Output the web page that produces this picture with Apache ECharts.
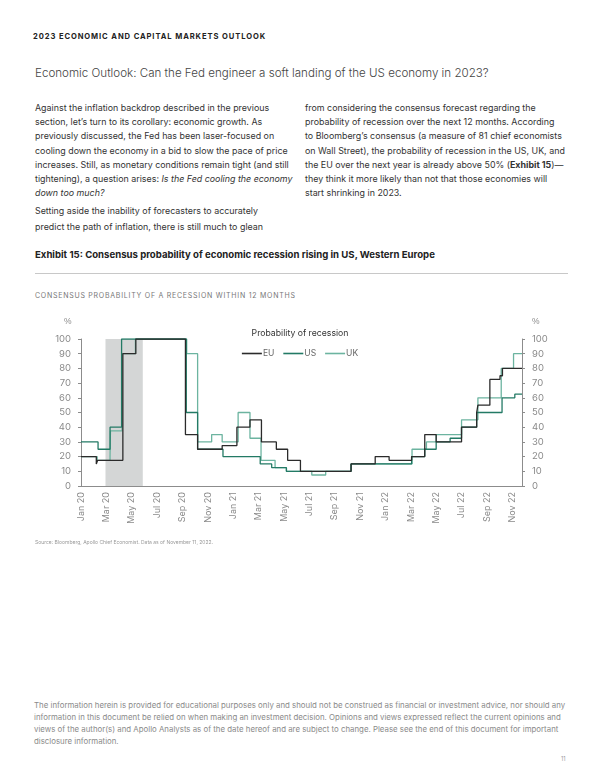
<!DOCTYPE html>
<html>
<head>
<meta charset="utf-8">
<script src="https://cdn.jsdelivr.net/npm/echarts@6/dist/echarts.min.js"></script>
<style>
  html, body { margin:0; padding:0; background:#fff; }
  body { width:600px; height:776px; position:relative; overflow:hidden; font-family: Inter, Roboto, "Liberation Sans", sans-serif; }
  .abs { position:absolute; white-space:nowrap; }
  #hdr { left:33px; top:32px; font-size:7.6px; font-weight:700; letter-spacing:0.9px; color:#222; }
  #ttl { left:35px; top:66px; font-size:11.6px; font-weight:300; color:#444; }
  .body { font-size:8.9px; color:#333; line-height:14.2px; }
  #col1 { left:35px; top:101px; }
  #col2 { left:305px; top:101px; }
  #col1b { left:35px; top:203px; line-height:15.5px; }
  #exh { left:35px; top:249px; font-size:9.6px; font-weight:700; color:#222; }
  #rule { position:absolute; left:35px; top:273px; width:533px; height:1px; background:#c8c8c8; }
  #sub { left:35px; top:291px; font-size:7px; letter-spacing:0.75px; color:#777; }
  #src { left:35px; top:539px; font-size:5px; color:#999; }
  #disc { left:34px; top:699px; font-size:7.85px; line-height:12px; color:#8a8a8a; }
  #pg { left:561px; top:756px; font-size:5.5px; color:#999; }
  #chart { position:absolute; left:0; top:300px; width:600px; height:250px; }
</style>
</head>
<body>
<div class="abs" id="hdr">2023 ECONOMIC AND CAPITAL MARKETS OUTLOOK</div>
<div class="abs" id="ttl">Economic Outlook: Can the Fed engineer a soft landing of the US economy in 2023?</div>
<div class="abs body" id="col1">Against the inflation backdrop described in the previous<br>section, let’s turn to its corollary: economic growth. As<br>previously discussed, the Fed has been laser-focused on<br>cooling down the economy in a bid to slow the pace of price<br>increases. Still, as monetary conditions remain tight (and still<br>tightening), a question arises: <i>Is the Fed cooling the economy</i><br><i>down too much?</i></div>
<div class="abs body" id="col1b">Setting aside the inability of forecasters to accurately<br>predict the path of inflation, there is still much to glean</div>
<div class="abs body" id="col2">from considering the consensus forecast regarding the<br>probability of recession over the next 12 months. According<br>to Bloomberg’s consensus (a measure of 81 chief economists<br>on Wall Street), the probability of recession in the US, UK, and<br>the EU over the next year is already above 50% (<b>Exhibit 15</b>)—<br>they think it more likely than not that those economies will<br>start shrinking in 2023.</div>
<div class="abs" id="exh">Exhibit 15: Consensus probability of economic recession rising in US, Western Europe</div>
<div id="rule"></div>
<div class="abs" id="sub">CONSENSUS PROBABILITY OF A RECESSION WITHIN 12 MONTHS</div>
<div id="chart"></div>
<div class="abs" id="src">Source: Bloomberg, Apollo Chief Economist. Data as of November 11, 2022.</div>
<div class="abs" id="disc">The information herein is provided for educational purposes only and should not be construed as financial or investment advice, nor should any<br>information in this document be relied on when making an investment decision. Opinions and views expressed reflect the current opinions and<br>views of the author(s) and Apollo Analysts as of the date hereof and are subject to change. Please see the end of this document for important<br>disclosure information.</div>
<div class="abs" id="pg">11</div>
<script>
// ---- data (step changes: date, probability %) ----
const END_DATE = '2022-11-24';
const recessionShade = ['2020-02-28', '2020-05-28'];
const monthNames = ['Jan','Feb','Mar','Apr','May','Jun','Jul','Aug','Sep','Oct','Nov','Dec'];

const euDates = ['2020-01-01','2020-02-07','2020-02-10','2020-04-10','2020-05-11','2020-09-08','2020-10-07','2020-12-05','2021-01-10','2021-02-10','2021-03-08','2021-04-13','2021-05-10','2021-06-10','2021-10-10','2021-12-07','2022-01-10','2022-03-03','2022-04-04','2022-05-01','2022-07-01','2022-08-07','2022-08-10','2022-09-08','2022-10-02','2022-10-08'];
const euValues = [20,15,17.5,90,100,35,25,27.5,40,45,30,25,17.5,10,15,20,17.5,20,35,30,40,50,55,72.5,75,80];

const usDates = ['2020-01-01','2020-02-11','2020-03-10','2020-04-07','2020-09-10','2020-10-07','2020-12-07','2021-03-05','2021-04-02','2021-05-07','2021-10-10','2022-03-03','2022-04-04','2022-05-01','2022-06-04','2022-07-01','2022-08-07','2022-10-07','2022-11-07'];
const usValues = [30,25,40,100,50,25,20,15,12.5,10,15,20,25,30,32.5,40,50,60,62.5];

const ukDates = ['2020-01-01','2020-02-09','2020-03-10','2020-03-11','2020-04-08','2020-05-10','2020-09-11','2020-10-07','2020-11-10','2020-12-05','2021-01-13','2021-02-10','2021-03-07','2021-04-10','2021-05-07','2021-07-07','2021-08-10','2021-10-10','2022-03-04','2022-04-08','2022-05-01','2022-07-01','2022-08-10','2022-10-05','2022-11-04'];
const ukValues = [20,17.5,20,37.5,90,100,90,30,35,30,50,32.5,17.5,12.5,10,7.5,10,15,25,30,35,45,60,80,90];

// months elapsed since 1 Jan 2020
function toM(s){
  const p = s.split('-').map(Number);
  const dim = new Date(p[0], p[1], 0).getDate();
  return (p[0]-2020)*12 + (p[1]-1) + (p[2]-1)/dim;
}
const xMax = toM(END_DATE);
function build(dates, vals){
  const d = dates.map((s,i)=>[toM(s), vals[i]]);
  d.push([xMax, vals[vals.length-1]]);
  return d;
}

const chart = echarts.init(document.getElementById('chart'));
const axisGray = '#8c8c8c';
const labelGray = '#8a8a8a';
const yAxisCommon = {
  type:'value', min:0, max:100, interval:10,
  splitLine:{show:false},
  axisLine:{show:true, lineStyle:{color:axisGray, width:1}},
  axisTick:{show:true, length:3, lineStyle:{color:axisGray}},
  axisLabel:{color:labelGray, fontSize:9.5, fontFamily:'Inter, Roboto, sans-serif', margin:10}
};
chart.setOption({
  animation:false,
  textStyle:{fontFamily:'Inter, Roboto, sans-serif'},
  title:{text:'Probability of recession', left:'center', top:24,
    textStyle:{fontSize:8.7, fontWeight:'normal', color:'#333'}},
  legend:{data:['EU','US','UK'], top:44, left:'center', icon:'rect', itemWidth:20, itemHeight:1.6, itemGap:9,
    textStyle:{fontSize:8.5, color:'#666', padding:[0,0,0,-4]}},
  graphic:[
    {type:'text', left:64, top:17, style:{text:'%', fontSize:8.5, fill:labelGray}},
    {type:'text', left:532, top:17, style:{text:'%', fontSize:8.5, fill:labelGray}}
  ],
  grid:{left:81, right:78, top:39, height:147},
  xAxis:{type:'value', min:0, max:xMax, interval:2,
    splitLine:{show:false},
    axisLine:{show:true, onZero:false, lineStyle:{color:axisGray}},
    axisTick:{show:false},
    axisLabel:{rotate:90, fontSize:9, color:labelGray, margin:6, showMaxLabel:false,
      formatter:function(v){
        if (Math.abs(v - Math.round(v)) > 1e-6 || Math.round(v) % 2 !== 0) return '';
        const m = Math.round(v);
        return monthNames[m % 12] + ' ' + String(20 + Math.floor(m/12));
      }}
  },
  yAxis:[
    Object.assign({position:'left'}, yAxisCommon),
    Object.assign({position:'right'}, yAxisCommon)
  ],
  series:[
    {name:'shade', type:'line', data:[], z:1, silent:true,
      markArea:{silent:true, itemStyle:{color:'#d4d6d6'},
        data:[[{xAxis:toM(recessionShade[0])},{xAxis:toM(recessionShade[1])}]]}},
    {name:'UK', type:'line', step:'end', showSymbol:false, z:3, color:'#6cb4a0',
      lineStyle:{width:1.3, color:'#6cb4a0'}, data:build(ukDates, ukValues)},
    {name:'US', type:'line', step:'end', showSymbol:false, z:4, color:'#237a65',
      lineStyle:{width:1.3, color:'#237a65'}, data:build(usDates, usValues)},
    {name:'EU', type:'line', step:'end', showSymbol:false, z:5, color:'#2b2b2b',
      lineStyle:{width:1.3, color:'#2b2b2b'}, data:build(euDates, euValues)}
  ]
});
</script>
</body>
</html>
